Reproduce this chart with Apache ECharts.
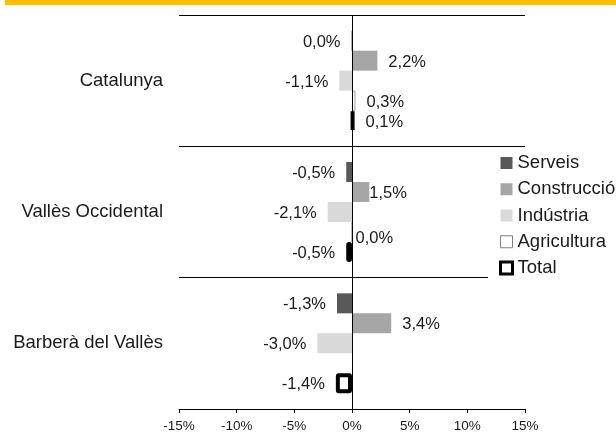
<!DOCTYPE html>
<html><head><meta charset="utf-8">
<script src="https://cdn.jsdelivr.net/npm/echarts@6/dist/echarts.min.js"></script>
<style>html,body{margin:0;padding:0;background:#fff}#c{width:616px;height:432px}</style>
</head><body><div id="c"></div>
<script>
// ---- data ----
const categories = ['Catalunya', 'Vallès Occidental', 'Barberà del Vallès'];
const seriesNames = ['Serveis', 'Construcció', 'Indústria', 'Agricultura', 'Total'];
const serveis = [-0.04, -0.5, -1.3];
const construccio = [2.2, 1.5, 3.4];
const industria = [-1.1, -2.1, -3.0];
const agricultura = [0.3, 0.0, null];
const total = [0.1, -0.5, -1.4];
const xTicks = [-15, -10, -5, 0, 5, 10, 15];

// ---- styling ----
const FONT = "'Liberation Sans', Arial, sans-serif";
const TXT = '#1a1a1a';
const seriesValues = [serveis, construccio, industria, agricultura, total];
const seriesStyles = [
  { color: '#595959' },
  { color: '#a6a6a6' },
  { color: '#d9d9d9' },
  { color: '#ffffff', borderColor: '#a0a0a0', borderWidth: 1 },
  { color: '#ffffff', borderColor: '#000000', borderWidth: 4, borderRadius: 1 }
];
// manual label nudges (seriesIndex|categoryIndex)
const labelTweaks = {
  '1|1': { distance: 0 },
  '3|1': { distance: 3, offset: [0, 6] }
};

function fmt(v) {
  let s = (Math.round(v * 10) / 10).toFixed(1);
  if (s === '-0.0') s = '0.0';
  return s.replace('.', ',') + '%';
}

const series = seriesNames.map((name, si) => {
  const data = seriesValues[si].map((v, ci) => {
    if (v === null || v === undefined) return '-';
    const t = labelTweaks[si + '|' + ci] || {};
    return {
      value: v,
      label: Object.assign({ position: v < 0 ? 'left' : 'right', distance: 11, offset: [0, 1.5] }, t)
    };
  });
  const s = {
    name, type: 'bar', data,
    barWidth: 20, barGap: '0%',
    itemStyle: seriesStyles[si],
    label: {
      show: true, fontFamily: FONT, fontSize: 16.5, color: TXT,
      formatter: p => fmt(p.value)
    },
    emphasis: { disabled: true }
  };
  if (si === 0) {
    s.markLine = {
      silent: true, symbol: ['none', 'none'], animation: false,
      label: { show: false },
      lineStyle: { color: '#000', type: 'solid', width: 1 },
      data: [{ xAxis: 0 }]
    };
  }
  return s;
});

const chart = echarts.init(document.getElementById('c'), null, { renderer: 'canvas' });
chart.setOption({
  animation: false,
  backgroundColor: '#fff',
  graphic: [{
    type: 'rect', left: 5, top: 0, z: 10,
    shape: { width: 611, height: 5 }, style: { fill: '#ffc000' }
  }],
  grid: { left: 179, right: 91, top: 15, bottom: 23, containLabel: false, outerBoundsMode: 'none' },
  legend: {
    orient: 'vertical', left: 488, top: 148,
    padding: [5, 5, 5, 11], backgroundColor: '#fff',
    itemWidth: 12, itemHeight: 12, itemGap: 6.25, icon: 'rect',
    textStyle: { fontFamily: FONT, fontSize: 18.5, color: TXT, lineHeight: 20 },
    data: [
      { name: 'Serveis' },
      { name: 'Construcció' },
      { name: 'Indústria' },
      { name: 'Agricultura', itemStyle: { color: '#fff', borderColor: '#808080', borderWidth: 1 } },
      { name: 'Total', itemStyle: { color: '#fff', borderColor: '#000', borderWidth: 3 } }
    ]
  },
  xAxis: {
    type: 'value',
    min: xTicks[0], max: xTicks[xTicks.length - 1], interval: xTicks[1] - xTicks[0],
    axisLine: { show: true, onZero: false, lineStyle: { color: '#000', width: 1 } },
    axisTick: { show: true, length: 4, lineStyle: { color: '#000' } },
    axisLabel: { formatter: v => v + '%', fontFamily: FONT, fontSize: 13.5, color: TXT, margin: 10 },
    splitLine: { show: false }
  },
  yAxis: {
    type: 'category', data: categories, inverse: true,
    axisLine: { show: false, onZero: false },
    axisTick: { show: false },
    axisLabel: { fontFamily: FONT, fontSize: 18.5, color: TXT, margin: 16 },
    splitLine: { show: true, lineStyle: { color: '#000', width: 1 } }
  },
  series
});
</script>
</body></html>
